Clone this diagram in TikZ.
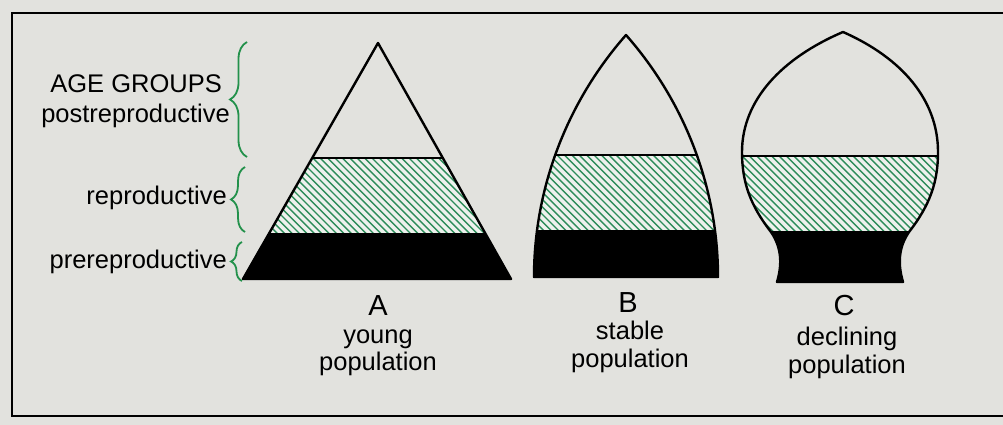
\documentclass[tikz,border=0pt]{standalone}
\usepackage{fontspec}
\setmainfont{Liberation Sans}
\usetikzlibrary{decorations.pathreplacing}
\definecolor{paper}{RGB}{226,226,222}
\definecolor{hatchbg}{RGB}{238,241,237}
\definecolor{hatchgreen}{RGB}{45,140,90}
\definecolor{bracegreen}{RGB}{35,145,75}
\tikzset{
  lbl/.style={font=\fontsize{25.5}{27}\selectfont, inner sep=0pt, anchor=base east},
  captext/.style={font=\fontsize{25.5}{27}\selectfont, inner sep=0pt, anchor=base},
  letter/.style={font=\fontsize{29}{30}\selectfont, inner sep=0pt, anchor=base},
  agebrace/.style={draw=bracegreen, line width=1.8pt, decorate, decoration={brace, amplitude=#1}},
  outline/.style={draw=black, line width=2.4pt, line join=round},
  bandline/.style={draw=black, line width=1.6pt},
  hatchline/.style={draw=hatchgreen, line width=1.4pt},
  frame/.style={draw=black, line width=2pt},
}
\newcommand\hatchband[2]{%
  \begin{scope}
    \clip (150,#1) rectangle (1000,#2);
    \fill[hatchbg] (150,#1) rectangle (1000,#2);
    \foreach \hx in {150,157.4,...,1000} \draw[hatchline] (\hx,#1) -- ++(90,90);
  \end{scope}}
\begin{document}
\begin{tikzpicture}[x=1pt,y=-1pt]
\useasboundingbox (0,0) rectangle (1003,425);
\fill[paper] (0,0) rectangle (1003,425);
% frame
\draw[frame] (1003,13) -- (12,13) -- (12,416) -- (1003,416);

% ---------- A : triangle ----------
\begin{scope}
  \clip (378,43) -- (511,279) -- (243,279) -- cycle;
  \hatchband{158}{233}
  \fill[black] (150,233) rectangle (1000,300);
  \draw[bandline] (150,158) -- (1000,158);
\end{scope}
\draw[outline] (378,43) -- (511,279) -- (243,279) -- cycle;

% ---------- B : bell ----------
\begin{scope}
  \clip (534,277) .. controls (534,188) and (567,102) .. (626,35)
        .. controls (685,102) and (718,188) .. (718,277) -- cycle;
  \hatchband{155}{230}
  \fill[black] (150,230) rectangle (1000,300);
  \draw[bandline] (150,155) -- (1000,155);
\end{scope}
\draw[outline] (534,277) .. controls (534,188) and (567,102) .. (626,35)
      .. controls (685,102) and (718,188) .. (718,277) -- cycle;

% ---------- C : urn ----------
\def\urn{(777,282) .. controls (782,265) and (782,248) .. (771,232)
  .. controls (750,205) and (742,182) .. (742,152)
  .. controls (742,100) and (782,58) .. (843,32)
  .. controls (902,58) and (938,100) .. (938,152)
  .. controls (938,182) and (930,205) .. (909,232)
  .. controls (898,248) and (898,265) .. (903,282) -- cycle}
\begin{scope}
  \clip \urn;
  \hatchband{156}{231}
  \fill[black] (150,231) rectangle (1000,300);
  \draw[bandline] (150,156) -- (1000,156);
\end{scope}
\draw[outline] \urn;

% ---------- braces ----------
\draw[agebrace=17pt] (247,157) coordinate (b1s) -- (247,42) coordinate (b1e);
\draw[agebrace=14pt] (245,232) coordinate (b2s) -- (245,167) coordinate (b2e);
\draw[agebrace=11pt] (242,281) coordinate (b3s) -- (242,242) coordinate (b3e);

% ---------- labels ----------
\node[lbl] (age) at (222,92.5) {AGE GROUPS};
\node[lbl] (post) at (230,122) {postreproductive};
\node[lbl] (repro) at (227,204) {reproductive};
\node[lbl] (pre) at (227,268) {prereproductive};

\node[letter] (la) at (378,315) {A};
\node[captext] (ya) at (378,343) {young};
\node[captext] (pa) at (378,370) {population};

\node[letter] (lb) at (628,312) {B};
\node[captext] (yb) at (630,339) {stable};
\node[captext] (pb) at (630,367) {population};

\node[letter] (lc) at (844,315) {C};
\node[captext] (yc) at (847,345) {declining};
\node[captext] (pc) at (847,373) {population};
\end{tikzpicture}
\end{document}
